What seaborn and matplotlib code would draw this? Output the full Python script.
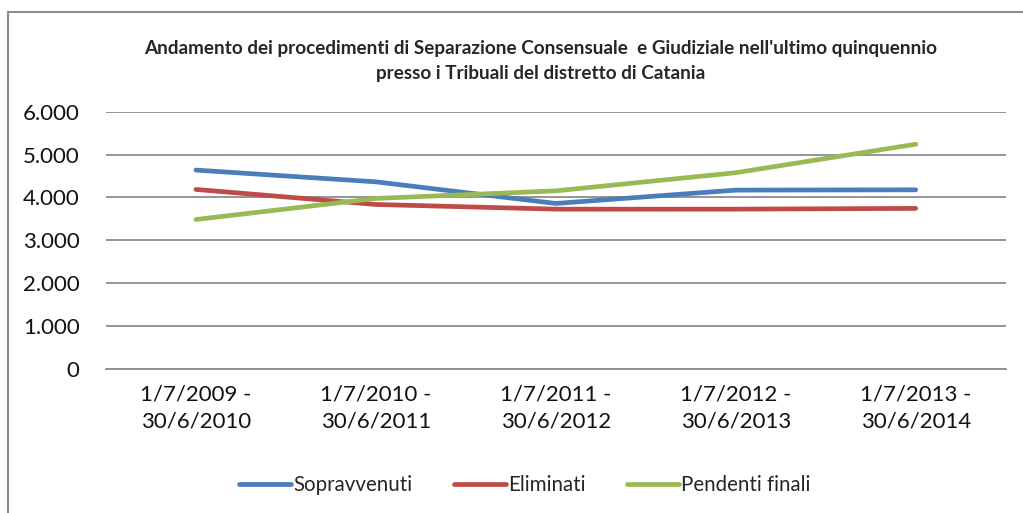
import seaborn as sns
import matplotlib.pyplot as plt
import matplotlib.ticker as mticker
from matplotlib.patches import Rectangle
import pandas as pd

# values
periods = ["1/7/2009 -\n30/6/2010", "1/7/2010 -\n30/6/2011", "1/7/2011 -\n30/6/2012",
           "1/7/2012 -\n30/6/2013", "1/7/2013 -\n30/6/2014"]
sopravvenuti = [4638, 4364, 3860, 4171, 4178]
eliminati = [4187, 3836, 3727, 3727, 3745]
pendenti = [3486, 3977, 4154, 4577, 5241]

series = ["Sopravvenuti", "Eliminati", "Pendenti finali"]
colors = ["#4A7EBB", "#BE4B48", "#98B954"]

df = pd.DataFrame({
    "Periodo": periods * 3,
    "pos": list(range(len(periods))) * 3,
    "Valore": sopravvenuti + eliminati + pendenti,
    "Serie": [s for s in series for _ in periods],
})

sns.set_style("white")
plt.rcParams["font.family"] = ["Lato", "DejaVu Sans"]

fig = plt.figure(figsize=(10.23, 5.13), dpi=100)
ax = fig.add_axes([0.1036, 0.2807, 0.8795, 0.5016])

sns.lineplot(data=df, x="pos", y="Valore", hue="Serie", hue_order=series,
             palette=colors, linewidth=3.4, ax=ax, legend=True,
             solid_capstyle="round")

ax.set_xlim(-0.5, 4.5)
ax.set_ylim(0, 6000)
ax.set_xticks(range(len(periods)))
ax.set_xticklabels(periods, fontsize=16, color="#111111", linespacing=1.45)
ax.set_yticks(range(0, 6001, 1000))
ax.yaxis.set_major_formatter(mticker.FuncFormatter(lambda v, p: f"{int(v):,}".replace(",", ".")))
ax.tick_params(axis="y", labelsize=16, length=0, pad=19, colors="#111111")
ax.tick_params(axis="x", length=0, pad=11)
ax.set_xlabel("")
ax.set_ylabel("")

ax.grid(axis="y", color="#8C8C8C", linewidth=1.3)
ax.set_axisbelow(True)
for side in ["top", "right", "left"]:
    ax.spines[side].set_visible(False)
ax.spines["bottom"].set_color("#8C8C8C")
ax.spines["bottom"].set_linewidth(1.3)

fig.text(0.528, 0.906, "Andamento dei procedimenti di Separazione Consensuale  e Giudiziale nell'ultimo quinquennio",
         ha="center", va="center", fontsize=13.6, fontweight="bold")
fig.text(0.528, 0.856, "presso i Tribuali del distretto di Catania",
         ha="center", va="center", fontsize=13.6, fontweight="bold")

handles, labels = ax.get_legend_handles_labels()
ax.legend(handles, labels, loc="center", bbox_to_anchor=(0.513, 0.054),
          bbox_transform=fig.transFigure, ncol=3, frameon=False, fontsize=14.8,
          handlelength=2.55, handletextpad=0.1, columnspacing=2.0)

fig.patches.append(Rectangle((8 / 1023, -0.1), 1.2, 1.1 - 12 / 513, transform=fig.transFigure,
                             fill=False, edgecolor="#8C8C8C", linewidth=1.5))

fig.savefig("out.png", dpi=100)
plt.close(fig)
